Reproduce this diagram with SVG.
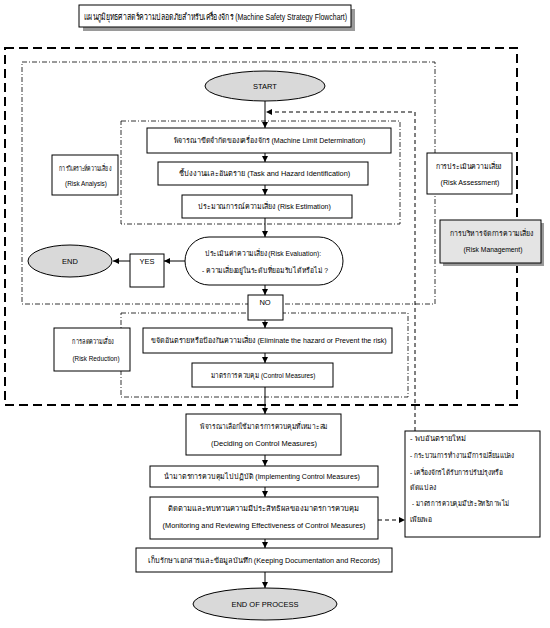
<svg xmlns="http://www.w3.org/2000/svg" width="550" height="628" viewBox="0 0 550 628">
<style>
text{font-family:"Liberation Sans","Noto Sans",sans-serif;font-size:7.5px;fill:#000}
.c{text-anchor:middle}
.box{fill:#fff;stroke:#000;stroke-width:1}
.gray{fill:#e4e4e4;stroke:#000;stroke-width:1}
.shadow{fill:#9a9a9a}
.ell{fill:#d9d9d9;stroke:#000;stroke-width:1}
.dd{fill:none;stroke:#000;stroke-width:0.8;stroke-dasharray:5,2,1,2}
.thick{fill:none;stroke:#000;stroke-width:2;stroke-dasharray:9,5}
.ln{fill:none;stroke:#000;stroke-width:1}
.dl{fill:none;stroke:#000;stroke-width:1;stroke-dasharray:4,3}
</style>
<defs>
<marker id="ar" viewBox="0 0 10 10" refX="10" refY="5" markerWidth="6" markerHeight="6" orient="auto" markerUnits="userSpaceOnUse">
<path d="M0,0 L10,5 L0,10 z" fill="#000"/>
</marker>
</defs>

<g id="regions">
<rect class="thick" x="5" y="48" width="512" height="357"/>
<rect class="dd" x="22" y="62" width="413" height="242"/>
<rect class="dd" x="121" y="121" width="279" height="103"/>
<rect class="dd" x="121" y="313" width="287" height="84"/>
</g>

<g id="title">
<rect class="shadow" x="83" y="9" width="272" height="22"/>
<rect class="box" x="79" y="5" width="272" height="22"/>
<text class="c" transform="translate(215.5,19.5) scale(0.77,1)" style="font-size:9px">แผนภูมิยุทธศาสตร์ความปลอดภัยสำหรับเครื่องจักร (Machine Safety Strategy Flowchart)</text>
</g>

<g id="connectors">
<path class="ln" d="M265,101 V128" marker-end="url(#ar)"/>
<path class="ln" d="M265,153 V162" marker-end="url(#ar)"/>
<path class="ln" d="M265,185 V195" marker-end="url(#ar)"/>
<path class="ln" d="M265,218 V237" marker-end="url(#ar)"/>
<path class="ln" d="M265,285 V295" marker-end="url(#ar)"/>
<path class="ln" d="M265,320 V328" marker-end="url(#ar)"/>
<path class="ln" d="M265,353 V363" marker-end="url(#ar)"/>
<path class="ln" d="M265,387 V414" marker-end="url(#ar)"/>
<path class="ln" d="M265,455 V466" marker-end="url(#ar)"/>
<path class="ln" d="M265,487 V497" marker-end="url(#ar)"/>
<path class="ln" d="M265,539 V548" marker-end="url(#ar)"/>
<path class="ln" d="M265,572 V588" marker-end="url(#ar)"/>
<path class="ln" d="M185,261 H164" marker-end="url(#ar)"/>
<path class="ln" d="M130,261 H113" marker-end="url(#ar)"/>
<path class="dl" d="M415,431 V112 H266" marker-end="url(#ar)"/>
<path class="dl" d="M378,520 H405" marker-end="url(#ar)"/>
</g>

<g id="start">
<ellipse class="ell" cx="265" cy="86" rx="60" ry="15"/>
<text class="c" x="265" y="89">START</text>
</g>

<g id="machine-limit">
<rect class="box" x="147" y="128" width="244" height="25"/>
<text class="c" transform="translate(269.5,143) scale(0.94,1)">พิจารณาขีดจำกัดของเครื่องจักร (Machine Limit Determination)</text>
</g>

<g id="task-hazard">
<rect class="box" x="158" y="162" width="210" height="23"/>
<text class="c" transform="translate(264.5,176) scale(0.98,1)">ชี้บ่งงานและอันตราย (Task and Hazard Identification)</text>
</g>

<g id="risk-estimation">
<rect class="box" x="182" y="195" width="170" height="23"/>
<text class="c" transform="translate(264.5,209) scale(0.94,1)">ประมาณการณ์ความเสี่ยง (Risk Estimation)</text>
</g>

<g id="risk-analysis">
<rect class="box" x="52" y="155" width="66" height="40"/>
<text class="c" transform="translate(85,171) scale(0.7,1)">การวิเคราะห์ความเสี่ยง</text>
<text class="c" transform="translate(86,186) scale(0.85,1)">(Risk Analysis)</text>
</g>

<g id="risk-assessment">
<rect class="box" x="427" y="153" width="85" height="41"/>
<text class="c" transform="translate(469,169) scale(0.93,1)">การประเมินความเสี่ยง</text>
<text class="c" transform="translate(470,185) scale(0.95,1)">(Risk Assessment)</text>
</g>

<g id="risk-management">
<rect class="shadow" x="443" y="223" width="101" height="43"/>
<rect class="gray" x="440" y="220" width="101" height="43"/>
<text class="c" transform="translate(492,236) scale(0.92,1)">การบริหารจัดการความเสี่ยง</text>
<text class="c" transform="translate(493,252) scale(0.9,1)">(Risk Management)</text>
</g>

<g id="risk-evaluation">
<rect class="box" x="185" y="237" width="158" height="48" rx="24" ry="24"/>
<text class="c" transform="translate(263,256) scale(0.9,1)">ประเมินค่าความเสี่ยง (Risk Evaluation):</text>
<text class="c" transform="translate(265,273) scale(0.9,1)">- ความเสี่ยงอยู่ในระดับที่ยอมรับได้หรือไม่ ?</text>
</g>

<g id="yes">
<rect class="box" x="130" y="254" width="34" height="33"/>
<text class="c" x="147" y="264">YES</text>
</g>

<g id="end">
<ellipse class="ell" cx="70" cy="261" rx="42" ry="16"/>
<text class="c" x="70" y="264">END</text>
</g>

<g id="no">
<rect class="box" x="248" y="295" width="35" height="25"/>
<text class="c" x="265" y="305">NO</text>
</g>

<g id="risk-reduction">
<rect class="box" x="54" y="328" width="76" height="43"/>
<text class="c" transform="translate(93,344) scale(0.75,1)">การลดความเสี่ยง</text>
<text class="c" transform="translate(96,361) scale(0.85,1)">(Risk Reduction)</text>
</g>

<g id="eliminate">
<rect class="box" x="143" y="328" width="249" height="25"/>
<text class="c" transform="translate(269,343) scale(0.95,1)">ขจัดอันตรายหรือป้องกันความเสี่ยง (Eliminate the hazard or Prevent the risk)</text>
</g>

<g id="control-measures">
<rect class="box" x="192" y="363" width="141" height="24"/>
<text class="c" transform="translate(263,378) scale(0.85,1)">มาตรการควบคุม (Control Measures)</text>
</g>

<g id="deciding">
<rect class="box" x="186" y="414" width="155" height="41"/>
<text class="c" transform="translate(264,429) scale(0.88,1)">พิจารณาเลือกใช้มาตรการควบคุมที่เหมาะสม</text>
<text class="c" x="264" y="446">(Deciding on Control Measures)</text>
</g>

<g id="implementing">
<rect class="box" x="150" y="466" width="228" height="21"/>
<text class="c" transform="translate(262,479) scale(0.94,1)">นำมาตรการควบคุมไปปฏิบัติ (Implementing Control Measures)</text>
</g>

<g id="monitoring">
<rect class="box" x="150" y="497" width="228" height="42"/>
<text class="c" x="263" y="511">ติดตามและทบทวนความมีประสิทธิผลของมาตรการควบคุม</text>
<text class="c" transform="translate(264,528) scale(0.98,1)">(Monitoring and Reviewing Effectiveness of Control Measures)</text>
</g>

<g id="keeping">
<rect class="box" x="136" y="548" width="256" height="24"/>
<text class="c" transform="translate(264,563) scale(0.975,1)">เก็บรักษาเอกสารและข้อมูลบันทึก (Keeping Documentation and Records)</text>
</g>

<g id="end-of-process">
<ellipse class="ell" cx="265" cy="604" rx="72" ry="16"/>
<text class="c" x="265" y="607">END OF PROCESS</text>
</g>

<g id="triggers">
<rect class="box" x="405" y="431" width="135" height="106"/>
<text transform="translate(410,441)">- พบอันตรายใหม่</text>
<text transform="translate(410,458) scale(0.85,1)">- กระบวนการทำงานมีการเปลี่ยนแปลง</text>
<text transform="translate(410,475) scale(0.88,1)">- เครื่องจักรได้รับการปรับปรุงหรือ</text>
<text transform="translate(410,490) scale(0.9,1)">ดัดแปลง</text>
<text transform="translate(412,506) scale(0.82,1)">- มาตรการควบคุมมีประสิทธิภาพไม่</text>
<text transform="translate(410,522) scale(0.9,1)">เพียงพอ</text>
</g>
</svg>
